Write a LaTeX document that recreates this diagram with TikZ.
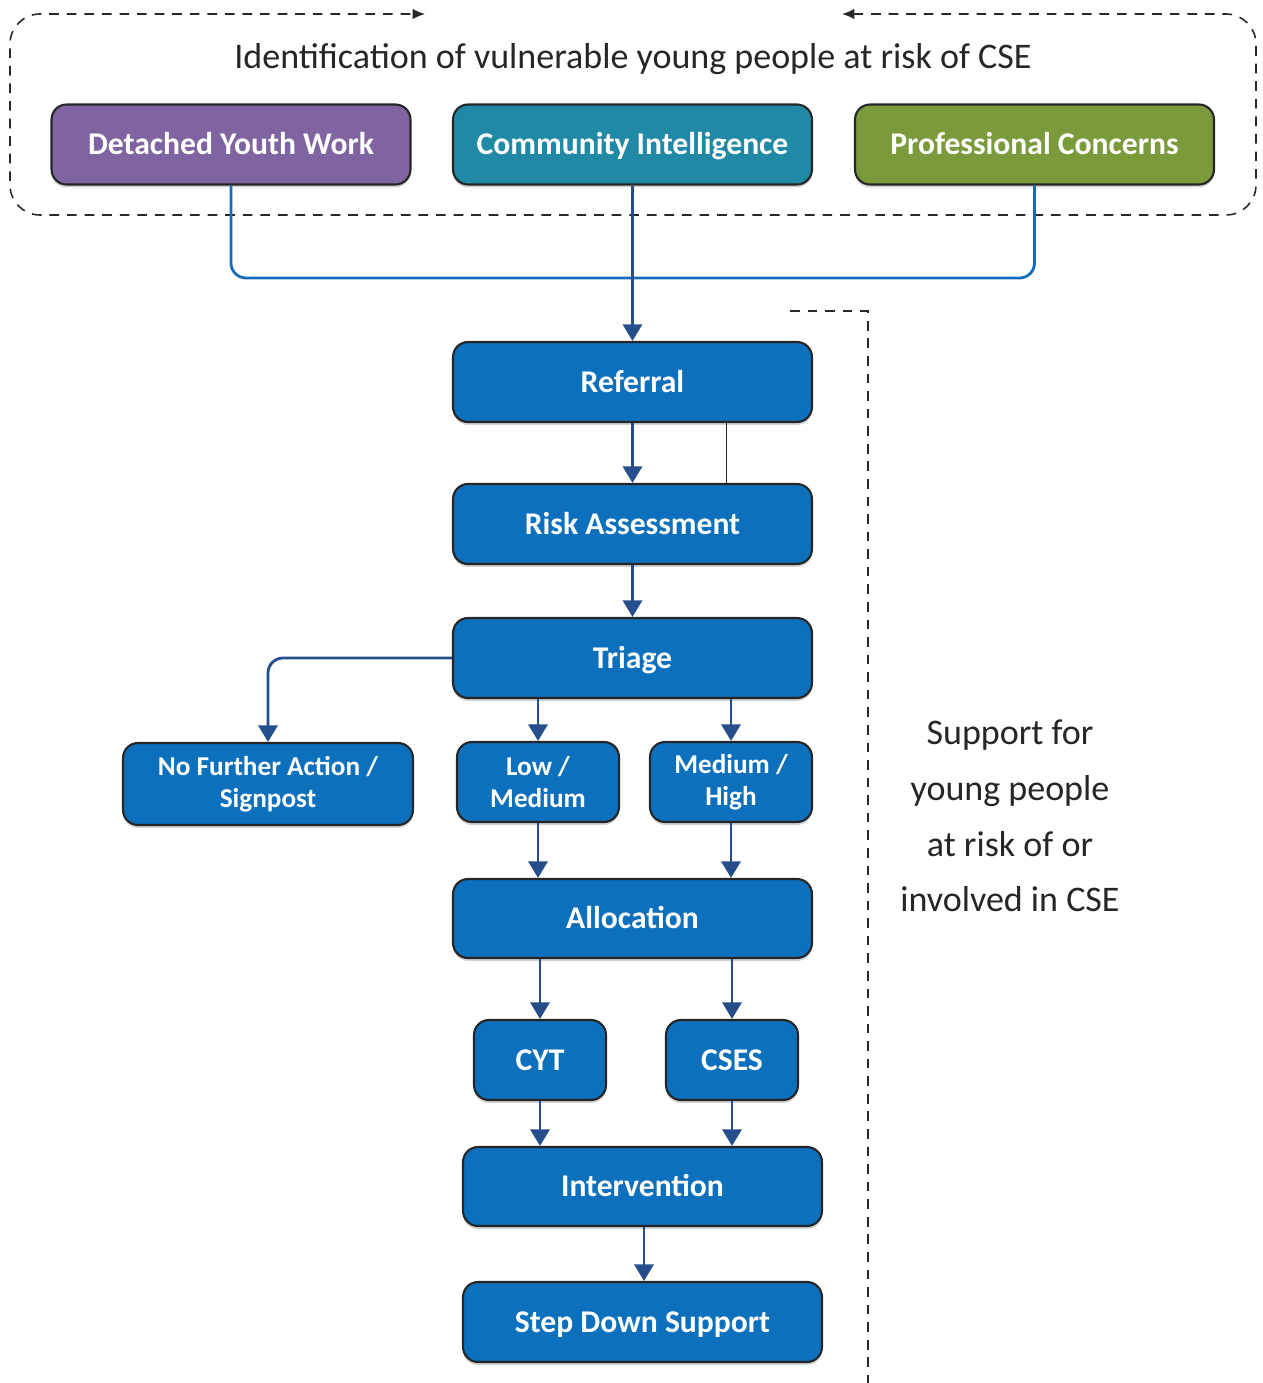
\documentclass[tikz,border=0pt]{standalone}
\usepackage{fontspec}
\setmainfont{Carlito}
\usetikzlibrary{arrows.meta,positioning,shadows}
\definecolor{boxblue}{RGB}{12,112,188}
\definecolor{dywpurple}{RGB}{128,100,162}
\definecolor{citeal}{RGB}{32,137,166}
\definecolor{pcgreen}{RGB}{122,154,60}
\definecolor{linkblue}{RGB}{38,78,140}
\definecolor{mergeblue}{RGB}{22,108,186}
\definecolor{framegray}{RGB}{40,40,40}

\begin{document}
\begin{tikzpicture}[x=0.02cm,y=-0.02cm,
  box/.style={rectangle,rounded corners=0.3cm,draw=black!85,line width=1.2pt,
    fill=boxblue,text=white,align=center,inner sep=0pt,
    font=\fontsize{15.5}{18}\selectfont\bfseries,
    drop shadow={opacity=0.35,shadow xshift=0pt,shadow yshift=-0.06cm}},
  oneline/.style={box,font=\fontsize{18}{20}\selectfont\bfseries,text height=13pt,text depth=1.4pt},
  wide/.style={oneline,minimum width=7.18cm,minimum height=1.6cm},
  small/.style={box,minimum width=3.24cm,minimum height=1.6cm},
  link/.style={line width=1.6pt,draw=linkblue,-{Triangle[width=11pt,length=9.5pt]}},
  merge/.style={line width=1.6pt,draw=mergeblue,rounded corners=0.3cm},
  frame/.style={dashed,dash pattern=on 5.5pt off 4.5pt,line width=0.9pt,draw=framegray},
  caption/.style={font=\fontsize{20.5}{31.7}\selectfont,text=black!85,align=center}]

  \useasboundingbox (0,0) rectangle (1262,1383);

  \draw[frame,rounded corners=0.6cm,{Latex[length=7pt,width=6pt]}-{Latex[length=7pt,width=6pt]}]
    (842,14) -- (1256,14) -- (1256,215) -- (10,215) -- (10,14) -- (425,14);
  \node[caption] (title) at (633,59) {Identification of vulnerable young people at risk of CSE};

  \node[wide,fill=dywpurple] (dyw) at (231,144.5)   {Detached Youth Work};
  \node[wide,fill=citeal]    (ci)  at (632.5,144.5) {Community Intelligence};
  \node[wide,fill=pcgreen]   (pc)  at (1034.5,144.5){Professional Concerns};

  \node[wide] (referral) at (632.5,382)  {Referral};
  \node[wide] (risk)     at (632.5,524)  {Risk Assessment};
  \node[wide] (triage)   at (632.5,658)  {Triage};
  \node[box,minimum width=5.8cm,minimum height=1.64cm] (nfa) at (268,784) {No Further Action /\\Signpost};
  \node[small] (lowmed)  at (538,782)    {Low /\\Medium};
  \node[small] (medhigh) at (731,782)    {Medium /\\High};
  \node[wide,minimum height=1.58cm] (alloc) at (632.5,918.5) {Allocation};
  \node[oneline,minimum width=2.64cm,minimum height=1.6cm] (cyt)  at (540,1060) {CYT};
  \node[oneline,minimum width=2.64cm,minimum height=1.6cm] (cses) at (732,1060) {CSES};
  \node[wide,minimum height=1.58cm] (interv) at (642.5,1186.5) {Intervention};
  \node[wide] (stepdown) at (642.5,1322) {Step Down Support};

  \coordinate (join) at (632.5,278);
  \draw[merge] (dyw.south) |- (join);
  \draw[merge] (pc.south) |- (join);
  \draw[link] (ci.south) -- (referral.north);

  \draw[link] (referral) -- (risk);
  \draw[black!85,line width=0.8pt] ([xshift=1.88cm]referral.south) -- ([xshift=1.88cm]risk.north);
  \draw[link] (risk) -- (triage);
  \draw[link,rounded corners=0.3cm] (triage.west) -| (nfa.north);
  \draw[link] (lowmed |- triage.south) -- (lowmed.north);
  \draw[link] (medhigh |- triage.south) -- (medhigh.north);
  \draw[link] (lowmed.south) -- (lowmed.south |- alloc.north);
  \draw[link] (medhigh.south) -- (medhigh.south |- alloc.north);
  \draw[link] (cyt |- alloc.south) -- (cyt.north);
  \draw[link] (cses |- alloc.south) -- (cses.north);
  \draw[link] (cyt.south) -- (cyt.south |- interv.north);
  \draw[link] (cses.south) -- (cses.south |- interv.north);
  \draw[link] (interv.south -| 644,0) -- (stepdown.north -| 644,0);

  \coordinate (supstart) at (790,311);
  \draw[frame] (supstart) -- (868,311) -- (868,1383);
  \node[caption] (support) at (1010,816) {Support for\\young people\\at risk of or\\involved in CSE};
\end{tikzpicture}
\end{document}
